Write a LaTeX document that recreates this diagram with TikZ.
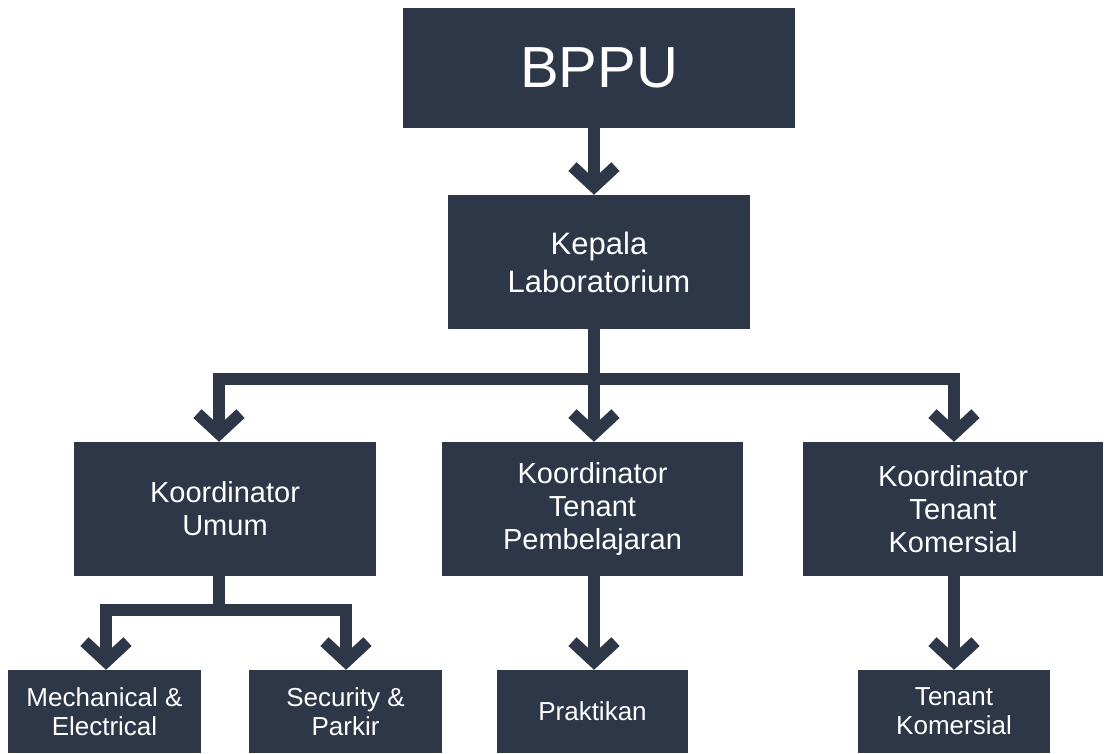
\documentclass[tikz,border=0pt]{standalone}
\usepackage{fontspec}
\setmainfont{Liberation Sans}
\usetikzlibrary{arrows.meta}
\definecolor{navy}{HTML}{2D3748}
\begin{document}
\begin{tikzpicture}[x=1pt,y=-1pt,
  box/.style={fill=navy,draw=none,text=white,align=center,inner sep=0pt,anchor=center},
  conn/.style={draw=navy,line width=12pt,line join=miter,line cap=butt,
    -{Straight Barb[length=20pt,width=43pt]}},
  line/.style={draw=navy,line width=12pt,line join=miter,line cap=butt}]
\useasboundingbox (0,0) rectangle (1104,753);
\node[box,minimum width=392pt,minimum height=120pt,font=\fontsize{58}{60}\selectfont] (bppu) at (599,68) {BPPU};
\node[box,minimum width=302pt,minimum height=134pt,font=\fontsize{31}{38}\selectfont] (kepala) at (599,262) {Kepala\\Laboratorium};
\node[box,minimum width=302pt,minimum height=134pt,font=\fontsize{29}{33}\selectfont] (umum) at (225,509) {Koordinator\\Umum};
\node[box,minimum width=301pt,minimum height=134pt,font=\fontsize{29}{33}\selectfont] (pemb) at (592.5,509) {Koordinator\\Tenant\\Pembelajaran};
\node[box,minimum width=300pt,minimum height=134pt,font=\fontsize{29}{33}\selectfont] (kom) at (953,509) {Koordinator\\Tenant\\Komersial};
\node[box,minimum width=193pt,minimum height=83pt,font=\fontsize{26}{29}\selectfont] (mech) at (104.5,711.5) {Mechanical \&\\Electrical};
\node[box,minimum width=193pt,minimum height=83pt,font=\fontsize{26}{29}\selectfont] (sec) at (345.5,711.5) {Security \&\\Parkir};
\node[box,minimum width=191pt,minimum height=83pt,font=\fontsize{26}{29}\selectfont] (prak) at (592.5,711.5) {Praktikan};
\node[box,minimum width=192pt,minimum height=83pt,font=\fontsize{26}{29}\selectfont] (tk) at (954,711.5) {Tenant\\Komersial};
\coordinate (jtop) at (594,379);
\coordinate (xl) at (219,0);
\coordinate (xr) at (954,0);
\coordinate (jum) at (219,610);
\coordinate (xml) at (106,0);
\coordinate (xmr) at (346,0);
\draw[conn] (bppu.south -| jtop) -- (kepala.north -| jtop);
\draw[conn] (kepala.south -| jtop) -- (jtop) -| (umum.north -| xl);
\draw[conn] (jtop) -- (pemb.north -| jtop);
\draw[conn] (jtop) -| (kom.north -| xr);
\draw[line] (umum.south -| jum) -- (jum);
\draw[conn] (jum) -| (mech.north -| xml);
\draw[conn] (jum) -| (sec.north -| xmr);
\draw[conn] (pemb.south -| jtop) -- (prak.north -| jtop);
\draw[conn] (kom.south -| xr) -- (tk.north -| xr);
\end{tikzpicture}
\end{document}
